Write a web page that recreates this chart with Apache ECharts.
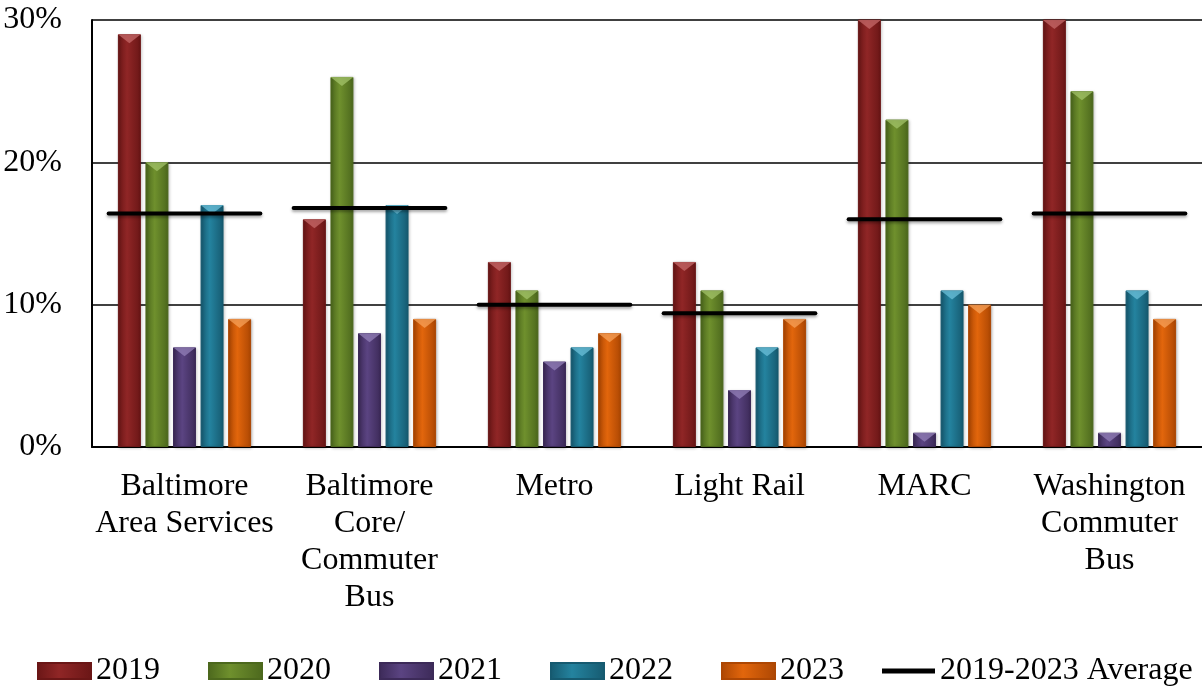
<!DOCTYPE html>
<html>
<head>
<meta charset="utf-8">
<script src="https://cdn.jsdelivr.net/npm/echarts@6/dist/echarts.min.js"></script>
<style>
html,body{margin:0;padding:0;background:#fff;}
#chart{width:1202px;height:688px;}
</style>
</head>
<body>
<div id="chart"></div>
<script>
const categories = ['Baltimore\nArea Services', 'Baltimore\nCore/\nCommuter\nBus', 'Metro', 'Light Rail', 'MARC', 'Washington\nCommuter\nBus'];
const years = ['2019', '2020', '2021', '2022', '2023'];
const v2019 = [29, 16, 13, 13, 35, 36];
const v2020 = [20, 26, 11, 11, 23, 25];
const v2021 = [7, 8, 6, 4, 1, 1];
const v2022 = [17, 17, 7, 7, 11, 11];
const v2023 = [9, 9, 8, 9, 10, 9];
const average = [16.4, 16.8, 10.0, 9.4, 16.0, 16.4];
const yTicks = [0, 10, 20, 30];

const values = [v2019, v2020, v2021, v2022, v2023];
const yMax = yTicks[yTicks.length - 1];
const palette = [
  ['#6a1616', '#902626', '#c66a6a'],
  ['#4c681d', '#6f902d', '#a3c36a'],
  ['#3c2a58', '#5b4482', '#9380b8'],
  ['#165a70', '#24839f', '#6cc0da'],
  ['#ad4703', '#e2660c', '#f7a25a']
];
function grad(c) {
  return new echarts.graphic.LinearGradient(0, 0, 1, 0, [
    {offset: 0, color: c[0]},
    {offset: 0.4, color: c[1]},
    {offset: 1, color: c[0]}
  ]);
}

const font = 'Liberation Serif, Times New Roman, serif';
const FS = 32;
const barSeries = years.map((y, i) => ({
  name: y,
  type: 'bar',
  data: values[i],
  barGap: '20%',
  barCategoryGap: '28%',
  clip: true,
  itemStyle: {color: grad(palette[i]), borderColor: palette[i][0], borderWidth: 1,
    shadowColor: 'rgba(0,0,0,0.25)', shadowBlur: 3, shadowOffsetX: 1, shadowOffsetY: 1}
}));
const bevelSeries = years.map((y, i) => ({
  name: y,
  type: 'pictorialBar',
  data: values[i].map(v => Math.min(v, yMax)),
  barGap: '20%',
  barCategoryGap: '28%',
  symbol: 'path://M0,0 L10,0 L5,6 Z',
  symbolSize: ['100%', 9],
  symbolPosition: 'end',
  symbolOffset: [0, 0],
  silent: true,
  z: 3,
  itemStyle: {color: palette[i][2], opacity: 0.75}
}));

const avgSeries = {
  name: '2019-2023 Average',
  type: 'custom',
  data: average.map((v, i) => [i, v]),
  encode: {x: 0, y: 1},
  itemStyle: {color: '#000'},
  z: 5,
  renderItem: function (params, api) {
    const p = api.coord([api.value(0), api.value(1)]);
    const w = api.size([1, 0])[0] * 0.82;
    return {
      type: 'line',
      shape: {x1: p[0] - w / 2, y1: p[1], x2: p[0] + w / 2, y2: p[1]},
      style: {stroke: '#000', lineWidth: 4, lineCap: 'round',
        shadowColor: 'rgba(0,0,0,0.35)', shadowBlur: 3, shadowOffsetY: 2}
    };
  }
};

const chart = echarts.init(document.getElementById('chart'));
chart.setOption({
  animation: false,
  backgroundColor: '#fff',
  textStyle: {fontFamily: font, color: '#000'},
  grid: {left: 92, right: 0, top: 20, bottom: 241, containLabel: false},
  legend: [{
    data: years,
    left: 37, top: 655, padding: 0,
    itemWidth: 53, itemHeight: 16, itemGap: 48,
    icon: 'rect',
    textStyle: {fontFamily: font, fontSize: FS, color: '#000'}
  }, {
    data: ['2019-2023 Average'],
    left: 882, top: 655, padding: 0,
    itemWidth: 53, itemHeight: 5,
    icon: 'rect',
    textStyle: {fontFamily: font, fontSize: FS, color: '#000'}
  }],
  xAxis: {
    type: 'category',
    data: categories,
    axisLine: {lineStyle: {color: '#000', width: 2}},
    axisTick: {show: false},
    axisLabel: {fontFamily: font, fontSize: FS, color: '#000', lineHeight: 37, margin: 21, interval: 0}
  },
  yAxis: {
    type: 'value',
    min: yTicks[0], max: yMax, interval: 10,
    axisLine: {show: true, lineStyle: {color: '#000', width: 2}},
    axisTick: {show: false},
    splitLine: {lineStyle: {color: '#000', width: 1.5}},
    axisLabel: {fontFamily: font, fontSize: FS, color: '#000', margin: 30, padding: [8, 0, 0, 0], formatter: v => v + '%'}
  },
  series: barSeries.concat(bevelSeries, [avgSeries])
});
</script>
</body>
</html>
